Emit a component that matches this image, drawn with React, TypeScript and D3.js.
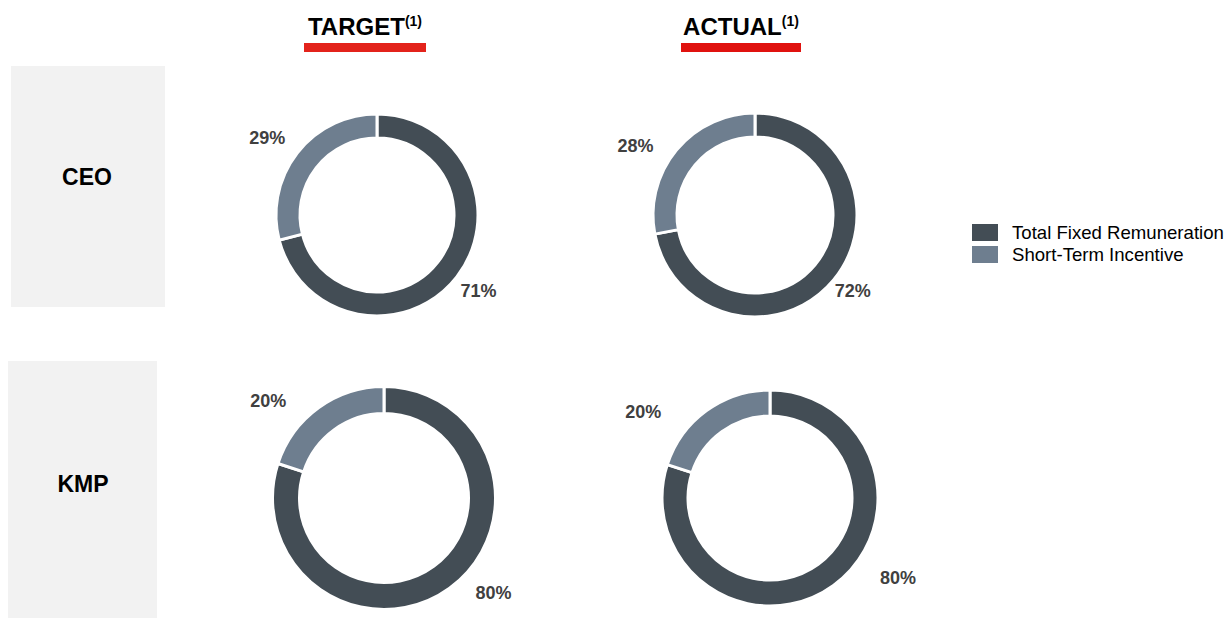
import React from 'react';
import * as d3 from 'd3';

const roles = ['CEO', 'KMP'];
const scenarios = ['TARGET', 'ACTUAL'];
const components = ['Total Fixed Remuneration', 'Short-Term Incentive'];

// shares in %, order = components
const ceoTarget = [71, 29];
const ceoActual = [72, 28];
const kmpTarget = [80, 20];
const kmpActual = [80, 20];

const colors = ['#434d55', '#6e7e8f'];

// donut placement (layout only)
const donuts = [
  { values: ceoTarget, cx: 377, cy: 215, r: 101, w: 24, labels: [[127, 127], [305, 134]] },
  { values: ceoActual, cx: 755, cy: 215, r: 102, w: 24, labels: [[128, 124], [300, 138]] },
  { values: kmpTarget, cx: 384, cy: 498, r: 111.5, w: 27, labels: [[131, 145], [310, 151]] },
  { values: kmpActual, cx: 770, cy: 498, r: 108, w: 26, labels: [[122, 151], [304, 153]] },
];

const headers = [
  { x: 365, barX: 304, barW: 122, color: '#e3231b' },
  { x: 741, barX: 681, barW: 120, color: '#e0120f' },
];

const roleBoxes = [
  { x: 11, y: 66, w: 154, h: 241, tx: 87, ty: 185 },
  { x: 8, y: 361, w: 149, h: 257, tx: 83, ty: 492 },
];

const font = 'Liberation Sans, Arial, sans-serif';

const Donut = ({ d }) => {
  const pie = d3.pie<number>().sort(null).value(v => v);
  const arc = d3.arc<d3.PieArcDatum<number>>()
    .innerRadius(d.r - d.w)
    .outerRadius(d.r);
  const arcs = pie(d.values);
  return (
    <g transform={`translate(${d.cx},${d.cy})`}>
      {arcs.map((a, i) => (
        <path key={i} d={arc(a) || ''} fill={colors[i]} stroke="#fff" strokeWidth={3} />
      ))}
      {d.values.map((v, i) => {
        const [deg, dist] = d.labels[i];
        const ang = (deg * Math.PI) / 180;
        return (
          <text
            key={'l' + i}
            x={dist * Math.sin(ang)}
            y={-dist * Math.cos(ang)}
            textAnchor="middle"
            dominantBaseline="central"
            fontFamily={font}
            fontWeight="bold"
            fontSize={18}
            fill="#404040"
          >
            {d3.format('d')(v)}%
          </text>
        );
      })}
    </g>
  );
};

export default function App() {
  return (
    <div>
      <style>{`body{margin:0;}`}</style>
      <svg width={1227} height={618} style={{ display: 'block', background: '#fff' }}>
        {roleBoxes.map((b, i) => (
          <g key={i}>
            <rect x={b.x} y={b.y} width={b.w} height={b.h} fill="#f2f2f2" />
            <text x={b.tx} y={b.ty} textAnchor="middle" fontFamily={font} fontWeight="bold" fontSize={23} fill="#000">
              {roles[i]}
            </text>
          </g>
        ))}

        {scenarios.map((s, i) => (
          <g key={s}>
            <text x={headers[i].x} y={35} textAnchor="middle" fontFamily={font} fontWeight="bold" fontSize={24} fill="#000">
              {s}
              <tspan fontSize={14} dy={-9}>(1)</tspan>
            </text>
            <rect x={headers[i].barX} y={43} width={headers[i].barW} height={9} fill={headers[i].color} />
          </g>
        ))}

        {donuts.map((d, i) => (
          <Donut key={i} d={d} />
        ))}

        <g transform="translate(972,224)">
          {components.map((c, i) => (
            <g key={c} transform={`translate(0,${i * 22})`}>
              <rect x={0} y={0} width={26} height={17} fill={colors[i]} />
              <text x={40} y={14.5} fontFamily={font} fontSize={18.6} fill="#000">
                {c}
              </text>
            </g>
          ))}
        </g>
      </svg>
    </div>
  );
}
